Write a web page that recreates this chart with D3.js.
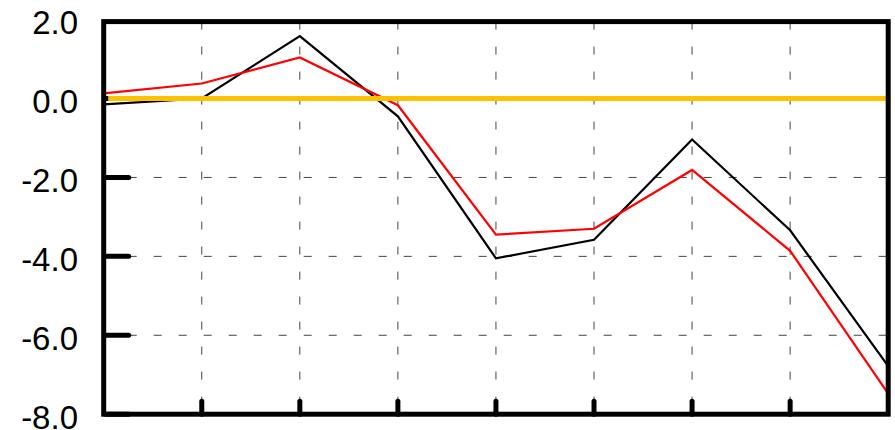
<!DOCTYPE html>
<html>
<head>
<meta charset="utf-8">
<script src="https://cdn.jsdelivr.net/npm/d3@7"></script>
<style>
  body { margin: 0; background: #fff; }
  svg { display: block; }
</style>
</head>
<body>
<div id="chart"></div>
<script>
// data
var points = [0, 1, 2, 3, 4, 5, 6, 7, 8];
var black_values = [-0.15, 0.0, 1.58, -0.45, -4.05, -3.58, -1.04, -3.34, -6.78];
var red_values = [0.13, 0.38, 1.04, -0.17, -3.45, -3.30, -1.81, -3.86, -7.48];
var baseline_value = [0];
var y_ticks = [2, 0, -2, -4, -6, -8];

var chart_width = 895, chart_height = 430;

var svg = d3.select('#chart')
  .append('svg')
  .attr('width', chart_width)
  .attr('height', chart_height);

// scales
var x_scale = d3.scaleLinear()
  .domain([0, 8])
  .range([103.7, 888.2]);

var y_scale = d3.scaleLinear()
  .domain([-8, 2])
  .range([414.2, 19.6]);

var inner = x_scale.ticks(8).filter(function(d) { return d > 0 && d < 8; });

// dashed grid
svg.append('g')
  .selectAll('line')
  .data(inner)
  .enter()
  .append('line')
  .attr('x1', function(d) { return x_scale(d); })
  .attr('x2', function(d) { return x_scale(d); })
  .attr('y1', y_scale(2) + 2)
  .attr('y2', y_scale(-8))
  .attr('stroke', '#444')
  .attr('stroke-width', 1)
  .attr('stroke-dasharray', '8,17');

svg.append('g')
  .selectAll('line')
  .data(y_ticks.filter(function(d) { return d > -8 && d < 2; }))
  .enter()
  .append('line')
  .attr('x1', x_scale(0))
  .attr('x2', x_scale(8))
  .attr('y1', function(d) { return y_scale(d); })
  .attr('y2', function(d) { return y_scale(d); })
  .attr('stroke', '#444')
  .attr('stroke-width', 1)
  .attr('stroke-dasharray', '8,17');

// y axis tick marks + labels (top one sits under the frame)
svg.append('g')
  .selectAll('line')
  .data(y_ticks.filter(function(d) { return d < 2; }))
  .enter()
  .append('line')
  .attr('x1', x_scale(0) + 2)
  .attr('x2', x_scale(0) + 25)
  .attr('y1', function(d) { return y_scale(d); })
  .attr('y2', function(d) { return y_scale(d); })
  .attr('stroke', '#000')
  .attr('stroke-width', 5)
  .attr('stroke-linecap', 'round');

svg.append('g')
  .selectAll('text')
  .data(y_ticks)
  .enter()
  .append('text')
  .text(function(d) { return d.toFixed(1); })
  .attr('x', 78)
  .attr('y', function(d) { return y_scale(d) + 14.5; })
  .attr('text-anchor', 'end')
  .attr('font-family', 'Liberation Sans, Arial, sans-serif')
  .attr('font-size', 33)
  .attr('fill', '#000');

// x axis tick marks
svg.append('g')
  .selectAll('line')
  .data(inner)
  .enter()
  .append('line')
  .attr('x1', function(d) { return x_scale(d); })
  .attr('x2', function(d) { return x_scale(d); })
  .attr('y1', y_scale(-8))
  .attr('y2', y_scale(-8) - 13)
  .attr('stroke', '#000')
  .attr('stroke-width', 5)
  .attr('stroke-linecap', 'round');

// series lines
var line = d3.line()
  .x(function(d, i) { return x_scale(points[i]); })
  .y(function(d) { return y_scale(d); });

svg.append('path')
  .datum(black_values)
  .attr('d', line)
  .attr('fill', 'none')
  .attr('stroke', '#000')
  .attr('stroke-width', 2.2);

svg.append('path')
  .datum(red_values)
  .attr('d', line)
  .attr('fill', 'none')
  .attr('stroke', '#ff0000')
  .attr('stroke-width', 2.2);

// zero reference line
svg.append('g')
  .selectAll('line')
  .data(baseline_value)
  .enter()
  .append('line')
  .attr('x1', x_scale(0) + 4.5)
  .attr('x2', x_scale(8) - 1)
  .attr('y1', function(d) { return y_scale(d); })
  .attr('y2', function(d) { return y_scale(d); })
  .attr('stroke', '#ffc000')
  .attr('stroke-width', 5);

// frame
svg.append('rect')
  .attr('x', x_scale(0))
  .attr('y', y_scale(2) + 2)
  .attr('width', x_scale(8) - x_scale(0))
  .attr('height', y_scale(-8) - y_scale(2) - 2)
  .attr('fill', 'none')
  .attr('stroke', '#000')
  .attr('stroke-width', 5);
</script>
</body>
</html>
